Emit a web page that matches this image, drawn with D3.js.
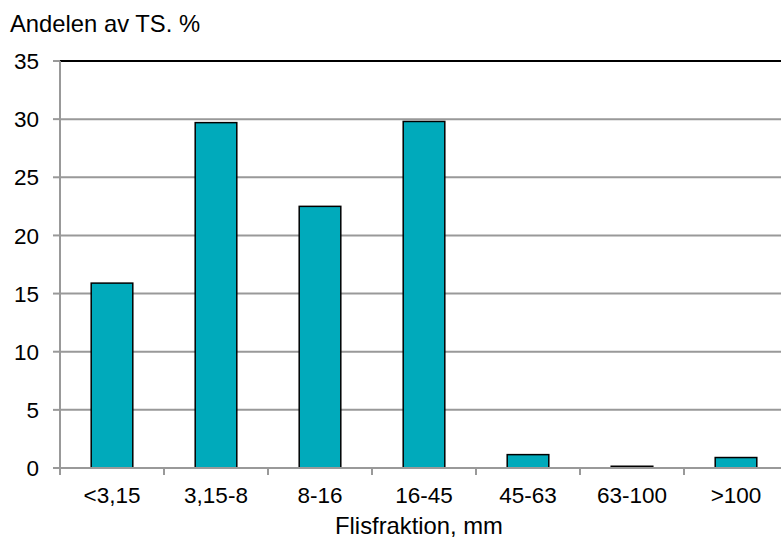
<!DOCTYPE html>
<html><head><meta charset="utf-8">
<script src="https://cdn.jsdelivr.net/npm/d3@7"></script>
<style>body{margin:0;background:#fff;}svg{display:block;font-family:"Liberation Sans",Arial,sans-serif;}</style>
</head><body>
<svg id="c" width="781" height="540"></svg>
<script>
const categories = ["<3,15","3,15-8","8-16","16-45","45-63","63-100",">100"];
const values = [15.9, 29.7, 22.5, 29.8, 1.15, 0.15, 0.9];
const yTicks = [0,5,10,15,20,25,30,35];
const yTitle = "Andelen av TS. %";
const xTitle = "Flisfraktion, mm";

(function(){
const svg = d3.select("#c");
const fs = 22.5, fsT = 23.8;
const pL = 60, pR = 788, pT = 61, pB = 468;
const xb = d3.scaleBand().domain(categories).range([pL, pR]);
const y = d3.scaleLinear().domain([0,35]).range([pB, pT]);

// gridlines
svg.append("g").selectAll("line").data(yTicks.filter(d=>d>0 && d<35)).join("line")
  .attr("x1", pL).attr("x2", 781).attr("y1", d=>y(d)).attr("y2", d=>y(d))
  .attr("stroke", "#999").attr("stroke-width", 2);
svg.append("line").attr("x1", pL).attr("x2", 781).attr("y1", y(35)).attr("y2", y(35))
  .attr("stroke", "#000").attr("stroke-width", 2);

// bars
svg.append("g").selectAll("rect").data(values).join("rect")
  .attr("x", (d,i)=>xb(categories[i]) + xb.bandwidth()*0.3)
  .attr("width", xb.bandwidth()*0.4)
  .attr("y", d=>y(d)).attr("height", d=>pB - y(d))
  .attr("fill", "#00aabb").attr("stroke", "#000").attr("stroke-width", 1.5);

// y axis
const ya = svg.append("g");
ya.append("line").attr("x1", pL).attr("x2", pL).attr("y1", pT).attr("y2", pB)
  .attr("stroke", "#999").attr("stroke-width", 2);
ya.selectAll("line.t").data(yTicks).join("line").attr("class","t")
  .attr("x1", pL-7).attr("x2", pL).attr("y1", d=>y(d)).attr("y2", d=>y(d))
  .attr("stroke", "#999").attr("stroke-width", 2);
ya.selectAll("text").data(yTicks).join("text")
  .attr("x", 39).attr("y", d=>y(d)).attr("dy", "0.36em").attr("text-anchor","end")
  .attr("font-size", fs).attr("fill","#000").text(d=>d);

// x axis
const xa = svg.append("g");
xa.append("line").attr("x1", pL-7).attr("x2", 781).attr("y1", pB).attr("y2", pB)
  .attr("stroke", "#999").attr("stroke-width", 2);
xa.selectAll("line.t").data(categories).join("line").attr("class","t")
  .attr("x1", d=>xb(d)).attr("x2", d=>xb(d)).attr("y1", pB).attr("y2", pB+7)
  .attr("stroke", "#999").attr("stroke-width", 2);
xa.selectAll("text").data(categories).join("text")
  .attr("x", d=>xb(d)+xb.bandwidth()/2).attr("y", 503).attr("text-anchor","middle")
  .attr("font-size", fs).attr("fill","#000").text(d=>d);

svg.append("text").attr("x", 10).attr("y", 32).attr("font-size", fsT).text(yTitle);
svg.append("text").attr("x", 419).attr("y", 534).attr("text-anchor","middle").attr("font-size", fsT).text(xTitle);
})();
</script>
</body></html>
